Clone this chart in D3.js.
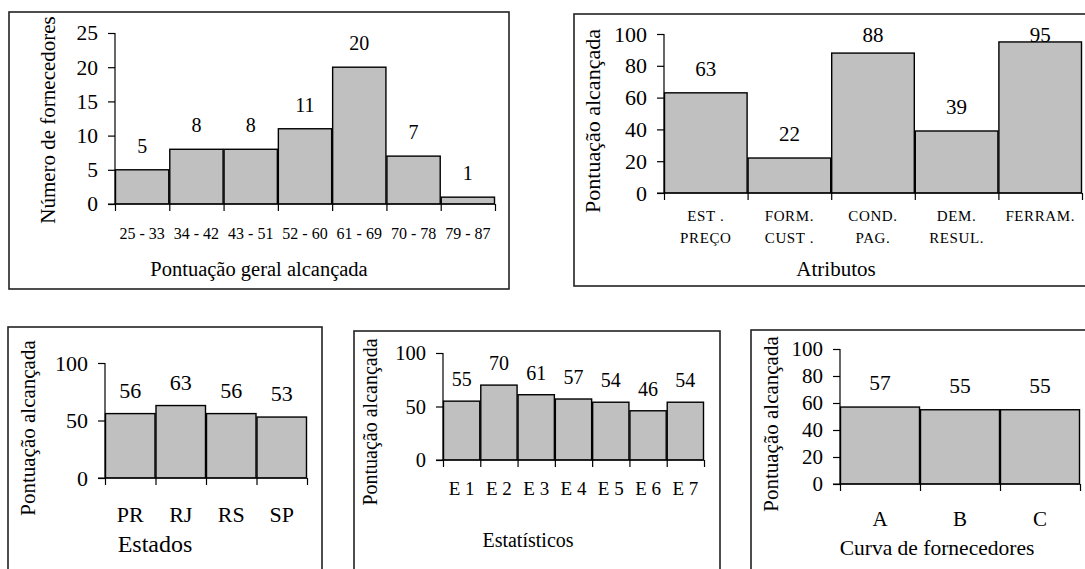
<!DOCTYPE html>
<html>
<head>
<meta charset="utf-8">
<script src="https://cdn.jsdelivr.net/npm/d3@7"></script>
<style>
  body { margin: 0; background: #fff; }
  svg { display: block; }
</style>
</head>
<body>
<svg id="chart" width="1085" height="569"></svg>
<script>
// data
const faixas = ['25 - 33', '34 - 42', '43 - 51', '52 - 60', '61 - 69', '70 - 78', '79 - 87'];
const numFornecedores = [5, 8, 8, 11, 20, 7, 1];

const atributos = [['EST .', 'PREÇO'], ['FORM.', 'CUST .'], ['COND.', 'PAG.'], ['DEM.', 'RESUL.'], ['FERRAM.']];
const pontosAtributos = [63, 22, 88, 39, 95];

const estados = ['PR', 'RJ', 'RS', 'SP'];
const pontosEstados = [56, 63, 56, 53];

const estatisticos = ['E 1', 'E 2', 'E 3', 'E 4', 'E 5', 'E 6', 'E 7'];
const pontosEstatisticos = [55, 70, 61, 57, 54, 46, 54];

const curvas = ['A', 'B', 'C'];
const pontosCurvas = [57, 55, 55];

const ticks25 = [0, 5, 10, 15, 20, 25];
const ticks100by20 = [0, 20, 40, 60, 80, 100];
const ticks100by50 = [0, 50, 100];

const FONT = '"Times New Roman", "Liberation Serif", serif';

// layout for each small panel
const panels = [
  { cats: faixas, vals: numFornecedores, max: 25, ticks: ticks25,
    frame: [9, 12, 509, 289], x0: 115, x1: 495, yBase: 204, yTop: 33,
    yTitle: 'Número de fornecedores', yTitleX: 55, yTitleY: 120,
    xTitle: 'Pontuação geral alcançada', xTitleX: 259, xTitleY: 276,
    catY: 239, fs: { ytick: 21.5, val: 20, cat: 16, title: 20.5, ytitle: 21 }, gap: 17, valMin: 0 },
  { cats: atributos, vals: pontosAtributos, max: 100, ticks: ticks100by20,
    frame: [574, 14, 1095, 286], x0: 664, x1: 1082, yBase: 193, yTop: 34,
    yTitle: 'Pontuação alcançada', yTitleX: 600, yTitleY: 121,
    xTitle: 'Atributos', xTitleX: 836, xTitleY: 276,
    catY: 221, catLine: 22, catSpacing: 0.6, fs: { ytick: 22, val: 21, cat: 15, title: 21, ytitle: 22 }, gap: 17, valMin: 42 },
  { cats: estados, vals: pontosEstados, max: 100, ticks: ticks100by50,
    frame: [8, 327, 322, 600], x0: 105, x1: 307, yBase: 478, yTop: 363,
    yTitle: 'Pontuação alcançada', yTitleX: 35, yTitleY: 428,
    xTitle: 'Estados', xTitleX: 155, xTitleY: 552,
    catY: 522, fs: { ytick: 22, val: 22, cat: 22, title: 24, ytitle: 21 }, gap: 16, valMin: 0 },
  { cats: estatisticos, vals: pontosEstatisticos, max: 100, ticks: ticks100by50,
    frame: [354, 331, 720, 600], x0: 443, x1: 704, yBase: 460, yTop: 353,
    yTitle: 'Pontuação alcançada', yTitleX: 377, yTitleY: 422,
    xTitle: 'Estatísticos', xTitleX: 528, xTitleY: 547,
    catY: 495, fs: { ytick: 20.5, val: 20, cat: 19, title: 20, ytitle: 20 }, gap: 15, valMin: 0 },
  { cats: curvas, vals: pontosCurvas, max: 100, ticks: ticks100by20,
    frame: [751, 330, 1095, 600], x0: 840, x1: 1080, yBase: 484, yTop: 349,
    yTitle: 'Pontuação alcançada', yTitleX: 778, yTitleY: 424,
    xTitle: 'Curva de fornecedores', xTitleX: 937, xTitleY: 555,
    catY: 526, fs: { ytick: 21, val: 21.5, cat: 21, title: 21.5, ytitle: 21 }, gap: 17, valMin: 0 }
];

const svg = d3.select('#chart');

const drawPanel = (p) => {
  const g = svg.append('g');

  // outer frame
  g.append('rect')
    .attr('x', p.frame[0]).attr('y', p.frame[1])
    .attr('width', p.frame[2] - p.frame[0]).attr('height', p.frame[3] - p.frame[1])
    .attr('fill', 'none').attr('stroke', '#222').attr('stroke-width', 1.6);

  const x = d3.scaleBand().domain(d3.range(p.cats.length)).range([p.x0, p.x1]).padding(0);
  const xEdge = d3.scaleLinear().domain([0, p.cats.length]).range([p.x0, p.x1]);
  const y = d3.scaleLinear().domain([0, p.max]).range([p.yBase, p.yTop]);

  // bars
  g.append('g')
    .selectAll('rect')
    .data(p.vals)
    .join('rect')
    .attr('x', (d, i) => x(i) + 0.5)
    .attr('y', d => y(d))
    .attr('width', x.bandwidth() - 1)
    .attr('height', d => y(0) - y(d))
    .attr('fill', '#c0c0c0')
    .attr('stroke', '#000')
    .attr('stroke-width', 1.4);

  // y axis
  const yAxis = g.append('g')
    .attr('transform', `translate(${p.x0},0)`)
    .call(d3.axisLeft(y).tickValues(p.ticks).tickSize(7).tickPadding(10))
    .attr('font-family', null)
    .attr('font-size', null);
  yAxis.select('.domain').attr('stroke', '#000').attr('stroke-width', 1.2)
    .attr('d', `M0,${y(p.max)}V${y(0)}`);
  yAxis.selectAll('.tick line').attr('stroke', '#000').attr('stroke-width', 1.2);
  yAxis.selectAll('.tick text')
    .style('font-family', FONT)
    .style('font-size', `${p.fs.ytick}px`)
    .attr('fill', '#000');

  // x axis with ticks at the category edges
  const xAxis = g.append('g')
    .attr('transform', `translate(0,${p.yBase})`)
    .call(d3.axisBottom(xEdge).tickValues(d3.range(p.cats.length + 1)).tickFormat('').tickSize(7));
  xAxis.select('.domain').attr('stroke', '#000').attr('stroke-width', 1.2)
    .attr('d', `M${p.x0 - 7},0H${p.x1}`);
  xAxis.selectAll('.tick line').attr('stroke', '#000').attr('stroke-width', 1.2);

  // category labels
  g.append('g')
    .selectAll('text')
    .data(p.cats)
    .join('text')
    .attr('x', (d, i) => x(i) + x.bandwidth() / 2)
    .attr('y', p.catY)
    .attr('text-anchor', 'middle')
    .style('font-family', FONT)
    .style('font-size', `${p.fs.cat}px`)
    .style('letter-spacing', `${p.catSpacing || 0}px`)
    .each(function (d) {
      const lines = Array.isArray(d) ? d : [d];
      d3.select(this).selectAll('tspan')
        .data(lines)
        .join('tspan')
        .attr('x', d3.select(this).attr('x'))
        .attr('dy', (l, j) => j === 0 ? 0 : p.catLine)
        .text(l => l);
    });

  // value labels
  g.append('g')
    .selectAll('text')
    .data(p.vals)
    .join('text')
    .attr('x', (d, i) => x(i) + x.bandwidth() / 2)
    .attr('y', d => Math.max(y(d) - p.gap, p.valMin))
    .attr('text-anchor', 'middle')
    .style('font-family', FONT)
    .style('font-size', `${p.fs.val}px`)
    .text(d => d);

  // axis titles
  g.append('text')
    .attr('x', p.xTitleX).attr('y', p.xTitleY)
    .attr('text-anchor', 'middle')
    .style('font-family', FONT)
    .style('font-size', `${p.fs.title}px`)
    .text(p.xTitle);

  g.append('text')
    .attr('transform', `translate(${p.yTitleX},${p.yTitleY}) rotate(-90)`)
    .attr('text-anchor', 'middle')
    .style('font-family', FONT)
    .style('font-size', `${p.fs.ytitle}px`)
    .text(p.yTitle);
};

panels.forEach(drawPanel);
</script>
</body>
</html>
